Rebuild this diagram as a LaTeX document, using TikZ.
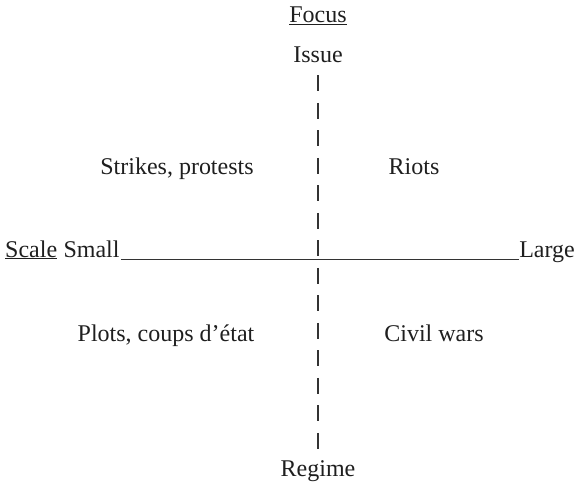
\documentclass[tikz,border=0pt]{standalone}
\usepackage{fontspec}
\setmainfont{Liberation Serif}
\usetikzlibrary{positioning}

\begin{document}
\begin{tikzpicture}[x=1pt,y=-1pt,
		lbl/.style={inner sep=0pt,anchor=base,text=black!88,font=\fontsize{24}{28}\selectfont},
		axisline/.style={line width=0.9pt,black!80},
		axisdash/.style={axisline,line width=1.1pt,dash pattern=on 16pt off 11.5pt}]
		\useasboundingbox (0,0) rectangle (576,484);

		\node [lbl] (focus) at (318,23) {\underline{Focus}};
		\node [lbl] (issue) at (318,63) {Issue};
		\node [lbl] (regime) at (318,476) {Regime};

		\node [lbl,anchor=base west] (scale) at (5,257) {\underline{Scale}};
		\node [lbl,base right=6pt of scale] (small) {Small};
		\node [lbl,anchor=base east] (large) at (575,257) {Large};

		\node [lbl] (strikes) at (177,175) {Strikes, protests};
		\node [lbl] (riots) at (414,175) {Riots};
		\node [lbl] (plots) at (166,341) {Plots, coups d'état};
		\node [lbl] (civil) at (434,341) {Civil wars};

		\draw [axisline] ([xshift=1pt,yshift=-2pt]small.base east) -- ([yshift=-2pt]large.base west);
		\draw [axisdash] ([yshift=-12pt]issue.south) -- ([yshift=10pt]regime.north);
	\end{tikzpicture}
\end{document}
